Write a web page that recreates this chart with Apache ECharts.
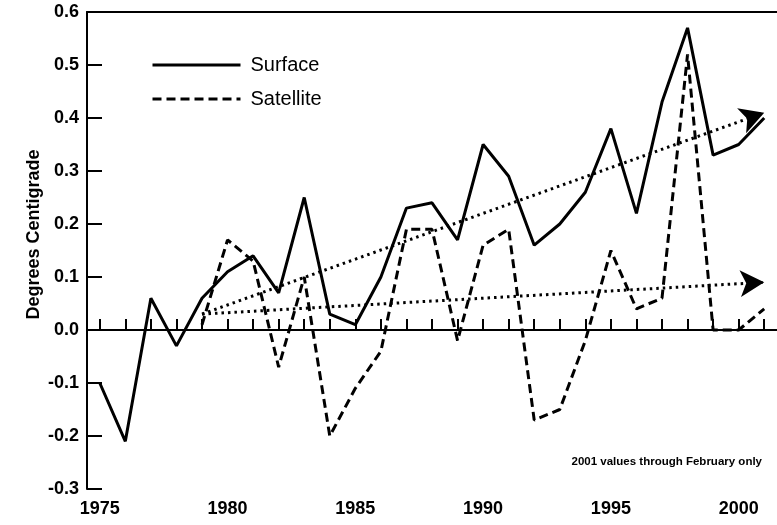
<!DOCTYPE html>
<html>
<head>
<meta charset="utf-8">
<script src="https://cdn.jsdelivr.net/npm/echarts@6/dist/echarts.min.js"></script>
<style>html,body{margin:0;padding:0;background:#fff;}#c{width:777px;height:525px;}</style>
</head>
<body>
<div id="c"></div>
<script>
const years = ['1975','1976','1977','1978','1979','1980','1981','1982','1983','1984','1985','1986','1987','1988','1989','1990','1991','1992','1993','1994','1995','1996','1997','1998','1999','2000','2001'];
const surface = [-0.10,-0.21,0.06,-0.03,0.06,0.11,0.14,0.07,0.25,0.03,0.01,0.10,0.23,0.24,0.17,0.35,0.29,0.16,0.20,0.26,0.38,0.22,0.43,0.57,0.33,0.35,0.40];
const satellite = [null,null,null,null,0.01,0.17,0.13,-0.07,0.10,-0.20,-0.11,-0.04,0.19,0.19,-0.02,0.16,0.19,-0.17,-0.15,-0.02,0.15,0.04,0.06,0.52,0.00,0.00,0.04];
const surfaceTrend = [[4, 0.03], [25.6, 0.41]];
const satelliteTrend = [[4, 0.03], [25.6, 0.09]];
const yTicks = [-0.3,-0.2,-0.1,0.0,0.1,0.2,0.3,0.4,0.5,0.6];
const note = '2001 values through February only';

const FONT = '"Liberation Sans", Arial, sans-serif';
const chart = echarts.init(document.getElementById('c'), null, {renderer: 'canvas'});
const trendStyle = {color: '#000', width: 3, type: [2.5, 4], cap: 'butt'};
chart.setOption({
  animation: false,
  backgroundColor: '#fff',
  grid: {left: 87, right: -2, top: 12, bottom: 36, containLabel: false},
  legend: {
    orient: 'vertical', left: 146, top: 50, itemWidth: 88, itemHeight: 14, itemGap: 14,
    textStyle: {fontFamily: FONT, fontSize: 20, color: '#000', padding: [0,0,0,5]},
    lineStyle: {width: 3},
    itemStyle: {opacity: 0},
    data: ['Surface', 'Satellite']
  },
  xAxis: [{
    type: 'category', data: years, boundaryGap: true, position: 'bottom',
    axisLine: {show: true, lineStyle: {color: '#000', width: 2}},
    axisTick: {show: true, inside: true, length: 11, alignWithLabel: true, interval: 0, lineStyle: {color: '#000', width: 2}},
    axisLabel: {interval: (i) => i % 5 === 0, margin: 11, fontFamily: FONT, fontSize: 18, fontWeight: 'bold', color: '#000'},
    splitLine: {show: false}
  }, {
    type: 'category', data: years, boundaryGap: true, position: 'top',
    axisLine: {show: true, lineStyle: {color: '#000', width: 2}},
    axisTick: {show: false}, axisLabel: {show: false}, splitLine: {show: false}
  }],
  yAxis: {
    type: 'value', min: -0.3, max: 0.6, interval: 0.1,
    name: 'Degrees Centigrade', nameLocation: 'middle', nameGap: 44, nameRotate: 90, nameMoveOverlap: false,
    nameTextStyle: {fontFamily: FONT, fontSize: 18, fontWeight: 'bold', color: '#000', padding: [0,0,0,32]},
    axisLine: {show: true, lineStyle: {color: '#000', width: 2}},
    axisTick: {show: true, inside: true, length: 15, lineStyle: {color: '#000', width: 2}},
    axisLabel: {margin: 8, fontFamily: FONT, fontSize: 18, fontWeight: 'bold', color: '#000', formatter: (v) => v.toFixed(1)},
    splitLine: {show: false}
  },
  series: [{
    name: 'Surface', type: 'line', data: surface, symbol: 'none', z: 3,
    lineStyle: {color: '#000', width: 3, type: 'solid'}, itemStyle: {color: '#000'},
    markLine: {
      silent: true, symbol: ['none', 'arrow'], symbolSize: [20, 24], label: {show: false},
      lineStyle: trendStyle,
      data: [
        [{coord: surfaceTrend[0]}, {coord: surfaceTrend[1]}],
        [{coord: satelliteTrend[0]}, {coord: satelliteTrend[1]}]
      ]
    }
  }, {
    name: 'Satellite', type: 'line', data: satellite, symbol: 'none', z: 3,
    lineStyle: {color: '#000', width: 3, type: [9, 5]}, itemStyle: {color: '#000'},
    markLine: {
      silent: true, symbol: ['none', 'none'], label: {show: false},
      lineStyle: {color: '#000', width: 2, type: 'solid'},
      data: [{yAxis: 0}]
    }
  }],
  graphic: [{
    type: 'text', right: 15, top: 456,
    style: {text: note, font: 'bold 11.5px ' + FONT, fill: '#000'}
  }]
});
</script>
</body>
</html>
